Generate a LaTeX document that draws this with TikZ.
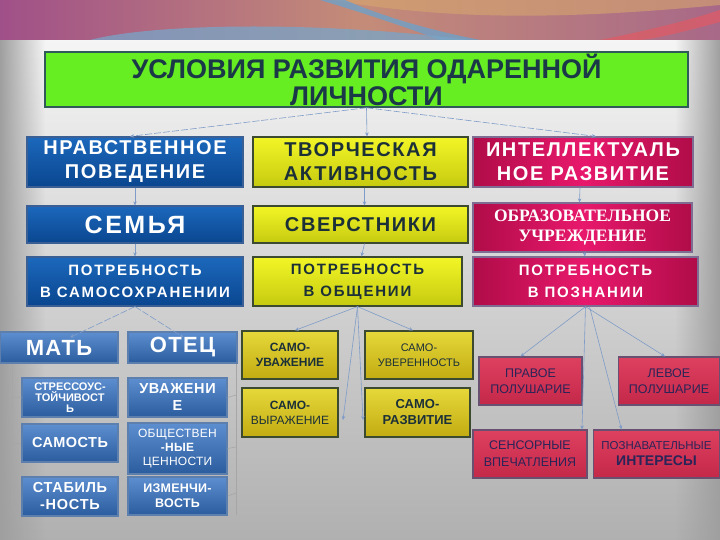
\documentclass[tikz,border=0pt]{standalone}
\usepackage{fontspec}
\setmainfont{Liberation Sans}
\newfontfamily\serifb{Liberation Serif}
\usetikzlibrary{arrows.meta,fadings}
\definecolor{titletext}{HTML}{1A3848}
\definecolor{ytext}{HTML}{1C3038}
\definecolor{rtext}{HTML}{2A2458}
\definecolor{conncol}{HTML}{7F9CC8}
\definecolor{titleedge}{HTML}{2E5A5A}
\definecolor{titlegreen}{HTML}{66EE22}
\definecolor{blueedge}{HTML}{3A5F95}
\definecolor{blueA}{HTML}{1C68BC}
\definecolor{blueB}{HTML}{0A468F}
\definecolor{lblueedge}{HTML}{5D7FAE}
\definecolor{lblueA}{HTML}{5C8ED0}
\definecolor{lblueB}{HTML}{2A5C9E}
\definecolor{yedge}{HTML}{3C4A30}
\definecolor{yellowA}{HTML}{F2F626}
\definecolor{yellowB}{HTML}{C6CA10}
\definecolor{goldA}{HTML}{E6D83A}
\definecolor{goldB}{HTML}{C2AC12}
\definecolor{redge}{HTML}{7E6C92}
\definecolor{redA}{HTML}{B00C48}
\definecolor{redB}{HTML}{E8186C}
\definecolor{lredge}{HTML}{6A5070}
\definecolor{lredA}{HTML}{DE4060}
\definecolor{lredB}{HTML}{C42848}
\definecolor{bandL}{HTML}{A05088}
\definecolor{bandM}{HTML}{C48C78}
\definecolor{bandR}{HTML}{A86888}
\definecolor{bandO}{HTML}{D6A66E}
\definecolor{bandB}{HTML}{6EA0C8}
\definecolor{bandB2}{HTML}{78A5C8}
\definecolor{bandRed}{HTML}{E15A64}
\newcommand{\fsz}[3]{\fontsize{#1}{#2}\selectfont\addfontfeature{LetterSpace=#3}}
\tikzset{
  box/.style={draw, line width=1.2pt, align=center, inner sep=1pt, font=\bfseries},
  titlebox/.style={box, draw=titleedge, fill=titlegreen, text=titletext, line width=1.5pt},
  bluebox/.style={box, draw=blueedge, top color=blueA, bottom color=blueB, text=white},
  lbluebox/.style={box, draw=lblueedge, top color=lblueA, bottom color=lblueB, text=white},
  yellowbox/.style={box, draw=yedge, top color=yellowA, bottom color=yellowB, text=ytext},
  goldbox/.style={box, draw=yedge, top color=goldA, bottom color=goldB, text=ytext},
  redbox/.style={box, draw=redge, left color=redA, right color=redA, middle color=redB, text=white},
  lredbox/.style={box, draw=lredge, top color=lredA, bottom color=lredB, text=rtext},
  conn/.style={draw=conncol, line width=0.6pt, -{Stealth[length=4pt,width=3.5pt]}},
  dconn/.style={conn, dash pattern=on 7pt off 2pt},
  tick/.style={draw=gray!70, line width=0.6pt},
  big/.style={font=\bfseries\fsz{20}{24}{8}},
  need/.style={font=\bfseries\fsz{15}{22}{12}},
}
\begin{document}
\begin{tikzpicture}[x=1pt,y=-1pt]
\useasboundingbox (0,0) rectangle (720,540);
% background
\fill[top color=gray!8, bottom color=gray!62] (0,40) rectangle (720,540);
\fill[gray!75, path fading=east] (0,40) rectangle (45,540);
\fill[gray!75, path fading=west] (675,40) rectangle (720,540);
% top band
\fill[left color=bandL, right color=bandR, middle color=bandM] (0,0) rectangle (720,40);
\fill[bandO, opacity=0.6] (330,0) .. controls (450,20) and (560,20) .. (720,5) -- (720,0) -- cycle;
\fill[bandB, opacity=0.8] (320,0) -- (345,0) .. controls (380,15) and (420,28) .. (480,40) -- (440,40) .. controls (400,25) and (360,12) .. cycle;
\fill[bandB2, opacity=0.75] (90,40) .. controls (160,22) and (330,22) .. (470,40) -- cycle;
\fill[bandRed, opacity=0.7] (600,40) .. controls (650,30) and (690,20) .. (720,10) -- (720,22) .. controls (690,30) and (660,38) .. (640,40) -- cycle;
% title
\node[titlebox, minimum width=643, minimum height=55, font=\bfseries\fsz{27}{27}{0}] (title) at (366.5,79.5) {УСЛОВИЯ РАЗВИТИЯ ОДАРЕННОЙ\\ЛИЧНОСТИ};
% row 1
\node[bluebox, big, minimum width=216, minimum height=50] (n1) at (135,162) {НРАВСТВЕННОЕ\\ПОВЕДЕНИЕ};
\node[yellowbox, big, minimum width=215, minimum height=50] (n2) at (360.5,162) {ТВОРЧЕСКАЯ\\АКТИВНОСТЬ};
\node[redbox, big, minimum width=220, minimum height=50] (n3) at (583,162) {ИНТЕЛЛЕКТУАЛЬ\\НОЕ РАЗВИТИЕ};
% row 2
\node[bluebox, minimum width=216, minimum height=37, font=\bfseries\fsz{25}{25}{10}] (s1) at (135,224.5) {СЕМЬЯ};
\node[yellowbox, big, minimum width=215, minimum height=37] (s2) at (360.5,224.5) {СВЕРСТНИКИ};
\node[redbox, minimum width=219, minimum height=49, font=\serifb\bfseries\fsz{17.5}{20}{0}] (s3) at (582.5,227.5) {ОБРАЗОВАТЕЛЬНОЕ\\УЧРЕЖДЕНИЕ};
% row 3
\node[bluebox, need, minimum width=216, minimum height=49] (p1) at (135,281.5) {ПОТРЕБНОСТЬ\\В САМОСОХРАНЕНИИ};
\node[yellowbox, need, minimum width=209, minimum height=49] (p2) at (357.5,281.5) {ПОТРЕБНОСТЬ\\В ОБЩЕНИИ};
\node[redbox, need, minimum width=225, minimum height=49] (p3) at (585.5,281.5) {ПОТРЕБНОСТЬ\\В ПОЗНАНИИ};
% left bottom
\node[lbluebox, minimum width=118, minimum height=31, font=\bfseries\fsz{22}{22}{6}] (mat) at (59,347.5) {МАТЬ};
\node[lbluebox, minimum width=109, minimum height=31, font=\bfseries\fsz{22}{22}{6}] (otec) at (182.5,347.5) {ОТЕЦ};
\node[lbluebox, minimum width=96, minimum height=39, font=\bfseries\fsz{11}{11}{0}] (m1) at (70,397.5) {СТРЕССОУС-\\ТОЙЧИВОСТ\\Ь};
\node[lbluebox, minimum width=96, minimum height=38, font=\bfseries\fsz{14.5}{15}{3}] (m2) at (70,443) {САМОСТЬ};
\node[lbluebox, minimum width=96, minimum height=39, font=\bfseries\fsz{14.5}{17}{5}] (m3) at (70,496.5) {СТАБИЛЬ\\-НОСТЬ};
\node[lbluebox, minimum width=99, minimum height=39, font=\bfseries\fsz{14.5}{17}{4}] (o1) at (177.5,397.5) {УВАЖЕНИ\\Е};
\node[lbluebox, minimum width=99, minimum height=51, font=\bfseries\fsz{12}{14}{2}] (o2) at (177.5,448.5) {{\mdseries ОБЩЕСТВЕН}\\-НЫЕ\\{\mdseries ЦЕННОСТИ}};
\node[lbluebox, minimum width=99, minimum height=38, font=\bfseries\fsz{12.5}{15}{2}] (o3) at (177.5,496) {ИЗМЕНЧИ-\\ВОСТЬ};
% middle bottom
\node[goldbox, minimum width=96, minimum height=48, font=\bfseries\fsz{12}{15}{0}] (c1) at (290,355) {САМО-\\УВАЖЕНИЕ};
\node[goldbox, minimum width=108, minimum height=48, font=\fsz{11}{15}{0}] (c2) at (419,355) {САМО-\\УВЕРЕННОСТЬ};
\node[goldbox, minimum width=96, minimum height=49, font=\fsz{12}{15}{0}] (c3) at (290,412.5) {\textbf{САМО-}\\ВЫРАЖЕНИЕ};
\node[goldbox, minimum width=105, minimum height=49, font=\bfseries\fsz{13}{16}{0}] (c4) at (417.5,412.5) {САМО-\\РАЗВИТИЕ};
% right bottom
\node[lredbox, minimum width=103, minimum height=48, font=\fsz{12.5}{16}{0}] (r1) at (530.5,381) {ПРАВОЕ\\ПОЛУШАРИЕ};
\node[lredbox, minimum width=101, minimum height=48, font=\fsz{12.5}{16}{0}] (r2) at (669,381) {ЛЕВОЕ\\ПОЛУШАРИЕ};
\node[lredbox, minimum width=114, minimum height=48, font=\fsz{12.5}{17}{0}] (r3) at (530,454) {СЕНСОРНЫЕ\\ВПЕЧАТЛЕНИЯ};
\node[lredbox, minimum width=126, minimum height=48, font=\fsz{11.5}{16}{0}] (r4) at (656.5,454) {ПОЗНАВАТЕЛЬНЫЕ\\{\bfseries\fontsize{14}{16}\selectfont ИНТЕРЕСЫ}};
% connectors
\draw[dconn] (title.south) -- ([xshift=-5]n1.north);
\draw[conn] (title.south) -- ([xshift=6.5]n2.north);
\draw[dconn] (title.south) -- ([xshift=13]n3.north);
\draw[conn] (n1.south) -- (s1.north);
\draw[conn] ([xshift=4]n2.south) -- ([xshift=4]s2.north);
\draw[conn] ([xshift=-3]n3.south) -- ([xshift=-3]s3.north);
\draw[conn] (s1.south) -- (p1.north);
\draw[conn] ([xshift=4]s2.south) -- ([xshift=4]p2.north);
\draw[conn] ([xshift=2]s3.south) -- ([xshift=-0.5]p3.north);
\draw[dconn] (p1.south) -- ([xshift=11,yshift=-6]mat.north);
\draw[dconn] (p1.south) -- ([xshift=1,yshift=-6]otec.north);
\draw[conn] (p2.south) -- ([xshift=5]c1.north);
\draw[conn] (p2.south) -- ([xshift=-6]c2.north);
\coordinate (ga) at (343,420);
\coordinate (gb) at (363,420);
\draw[conn] (p2.south) -- (ga);
\draw[conn] (p2.south) -- (gb);
\draw[conn] (p3.south) -- ([xshift=-10]r1.north);
\draw[conn] (p3.south) -- ([xshift=-4]r2.north);
\draw[conn] (p3.south) -- ([xshift=52]r3.north);
\draw[conn] ([xshift=4]p3.south) -- ([xshift=-35]r4.north);
% side lines
\coordinate (lt) at (12,364);
\coordinate (lb) at (12,508);
\coordinate (rt) at (236,364);
\coordinate (rb) at (236,515);
\draw[tick] (lt) -- (lb);
\draw[tick] (rt) -- (rb);
\draw[tick] (12,397) -- (m1.west);
\draw[tick] (12,443) -- (m2.west);
\draw[tick] (236,395) -- (o1.east);
\draw[tick] (236,447) -- (o2.east);
\draw[tick] (236,493) -- (o3.east);
\end{tikzpicture}
\end{document}
